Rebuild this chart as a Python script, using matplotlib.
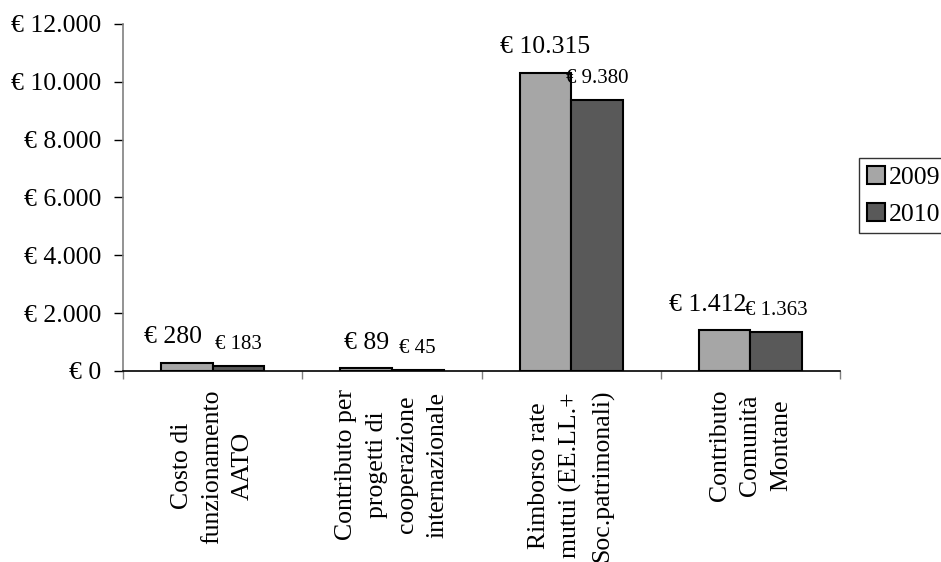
import matplotlib.pyplot as plt
from matplotlib.ticker import FuncFormatter
import numpy as np

# ------ data ------

categorie = ['Costo di\nfunzionamento\nAATO',
             'Contributo per\nprogetti di\ncooperazione\ninternazionale',
             'Rimborso rate\nmutui (EE.LL.+\nSoc.patrimonali)',
             'Contributo\nComunità\nMontane']
valori_2009 = [280, 89, 10315, 1412]
valori_2010 = [183, 45, 9380, 1363]
anni = ['2009', '2010']


def euro(v, pos=None):
    return '€ ' + f'{int(v):,}'.replace(',', '.')


plt.rcParams['font.family'] = ['Liberation Serif', 'DejaVu Serif']

# ------ plot data ------

fig = plt.figure(figsize=(9.41, 5.62), dpi=100)
ax = fig.add_axes([0.1307, 0.3399, 0.7620, 0.6174])

x = np.arange(len(categorie))
w = 0.288
b1 = ax.bar(x - w / 2, valori_2009, w, color='#a6a6a6', edgecolor='black', linewidth=1.5, label=anni[0])
b2 = ax.bar(x + w / 2, valori_2010, w, color='#595959', edgecolor='black', linewidth=1.5, label=anni[1])

# value labels above the bars (small left shift where the two labels would touch)
spost_2009 = [-10, 0, 0, -12]
for xi, v, dx in zip(x - w / 2, valori_2009, spost_2009):
    ax.annotate(euro(v), (xi, v), xytext=(dx, 14), textcoords='offset points',
                ha='center', va='baseline', fontsize=18.5)
for xi, v in zip(x + w / 2, valori_2010):
    ax.annotate(euro(v), (xi, v), xytext=(0, 12), textcoords='offset points',
                ha='center', va='baseline', fontsize=15)

ax.set_xlim(-0.5, len(categorie) - 0.5)
ax.set_ylim(0, 12000)
ax.set_yticks(np.arange(0, 12001, 2000))
ax.yaxis.set_major_formatter(FuncFormatter(euro))
ax.set_xticks(np.arange(len(categorie) + 1) - 0.5, minor=False)
ax.set_xticklabels([])
ax.set_xticks(x, minor=True)
ax.set_xticklabels(categorie, minor=True, rotation=90, fontsize=18.5,
                   va='top', ha='center', multialignment='center', linespacing=1.5)
ax.tick_params(axis='x', which='minor', length=0, pad=13)
ax.tick_params(axis='x', which='major', length=6, width=1, color='#808080')
ax.tick_params(axis='y', length=6.5, width=1, labelsize=18.5, pad=9)

ax.spines['top'].set_visible(False)
ax.spines['right'].set_visible(False)
ax.spines['left'].set_color('#808080')
ax.spines['left'].set_linewidth(1.2)
ax.spines['bottom'].set_linewidth(1.2)

leg = fig.legend(handles=[b1, b2], loc='upper left', bbox_to_anchor=(0.9129, 0.7189),
                 fontsize=18.5, frameon=True, fancybox=False, edgecolor='black',
                 handlelength=0.7, handleheight=0.7, handletextpad=0.15,
                 borderpad=0.3, labelspacing=0.55, borderaxespad=0)
leg.get_frame().set_linewidth(1)

fig.savefig('out.png', dpi=100)
